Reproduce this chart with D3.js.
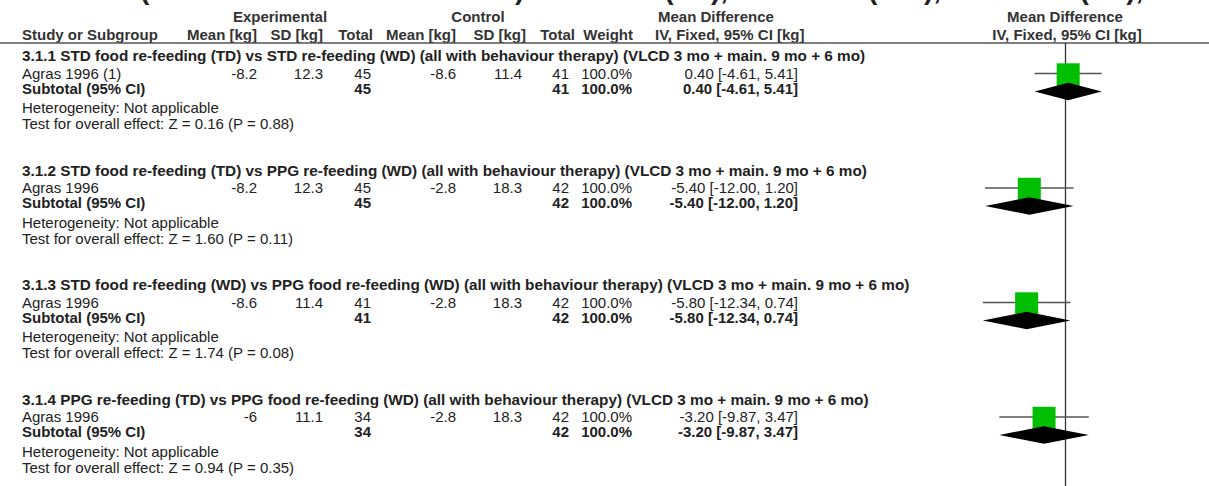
<!DOCTYPE html>
<html>
<head>
<meta charset="utf-8">
<script src="https://cdn.jsdelivr.net/npm/d3@7"></script>
<style>
  body { margin: 0; background: #fff; }
  svg { display: block; font-family: "Liberation Sans", Arial, sans-serif; }
  text { fill: #222; }
  .bold { font-weight: bold; }
</style>
</head>
<body>
<svg id="chart" width="1209" height="486"></svg>
<script>
const WIDTH = 1209;
const HEIGHT = 486;

// subgroup data
const groupTitles = [
  "3.1.1 STD food re-feeding (TD) vs STD re-feeding (WD) (all with behaviour therapy) (VLCD 3 mo + main. 9 mo + 6 mo)",
  "3.1.2 STD food re-feeding (TD) vs PPG re-feeding (WD) (all with behaviour therapy) (VLCD 3 mo + main. 9 mo + 6 mo)",
  "3.1.3 STD food re-feeding (WD) vs PPG food re-feeding (WD) (all with behaviour therapy) (VLCD 3 mo + main. 9 mo + 6 mo)",
  "3.1.4 PPG re-feeding (TD) vs PPG food re-feeding (WD) (all with behaviour therapy) (VLCD 3 mo + main. 9 mo + 6 mo)"
];
const studies = ["Agras 1996 (1)", "Agras 1996", "Agras 1996", "Agras 1996"];
const expMean = ["-8.2", "-8.2", "-8.6", "-6"];
const expSD = ["12.3", "12.3", "11.4", "11.1"];
const expN = [45, 45, 41, 34];
const ctlMean = ["-8.6", "-2.8", "-2.8", "-2.8"];
const ctlSD = ["11.4", "18.3", "18.3", "18.3"];
const ctlN = [41, 42, 42, 42];
const weights = [100, 100, 100, 100];
const md = [0.40, -5.40, -5.80, -3.20];
const ciLow = [-4.61, -12.00, -12.34, -9.87];
const ciHigh = [5.41, 1.20, 0.74, 3.47];
const zStat = [0.16, 1.60, 1.74, 0.94];
const pVal = [0.88, 0.11, 0.08, 0.35];

// header labels: [label, x, anchor]
const headerCols = [
  ["Study or Subgroup", 22, "start"],
  ["Mean [kg]", 257, "end"],
  ["SD [kg]", 323, "end"],
  ["Total", 373, "end"],
  ["Mean [kg]", 456, "end"],
  ["SD [kg]", 526, "end"],
  ["Total", 575, "end"],
  ["Weight", 633, "end"],
  ["IV, Fixed, 95% CI [kg]", 655, "start"],
  ["IV, Fixed, 95% CI [kg]", 1067, "middle"]
];
const topHeaders = [
  ["Experimental", 280, "middle"],
  ["Control", 478, "middle"],
  ["Mean Difference", 658, "start"],
  ["Mean Difference", 1065, "middle"]
];
const titleText = "(Outcome: kilo lost at 18 mo) STD food (TD), STD food (WD), STD/PPG (TD), PPG food ((ppg, TD), PPG food ((ppg, WD))";

const data = groupTitles.map((t, i) => ({
  title: t, study: studies[i],
  em: expMean[i], es: expSD[i], en: expN[i],
  cm: ctlMean[i], cs: ctlSD[i], cn: ctlN[i],
  w: weights[i], md: md[i], lo: ciLow[i], hi: ciHigh[i],
  z: zStat[i], p: pVal[i]
}));

const svg = d3.select("#chart");
const fmt2 = d3.format(".2f");
const minus = s => String(s).replace("\u2212", "-");
const ciText = d => minus(fmt2(d.md)) + " [" + minus(fmt2(d.lo)) + ", " + minus(fmt2(d.hi)) + "]";

// forest plot scale (6.7 px per kg)
const x = d3.scaleLinear().domain([-20, 20]).range([931.5, 1199.5]);
const groupY = d3.scaleLinear().domain([0, 1]).range([56, 170.5]);
const sq = d3.scaleSqrt().domain([0, 100]).range([0, 23]);

// clipped title at the very top
svg.append("text")
  .attr("class", "bold")
  .attr("x", 140).attr("y", -1)
  .style("font-size", "28px")
  .text(titleText);

// headers
svg.selectAll("text.top").data(topHeaders).enter().append("text")
  .attr("class", "top bold")
  .attr("x", d => d[1]).attr("y", 17).attr("dy", "0.35em")
  .attr("text-anchor", d => d[2])
  .style("font-size", "15px").style("fill", "#333")
  .text(d => d[0]);

svg.selectAll("text.col").data(headerCols).enter().append("text")
  .attr("class", "col bold")
  .attr("x", d => d[1]).attr("y", 35).attr("dy", "0.35em")
  .attr("text-anchor", d => d[2])
  .style("font-size", "15px").style("fill", "#333")
  .text(d => d[0]);

svg.append("line")
  .attr("x1", 0).attr("x2", WIDTH)
  .attr("y1", 43).attr("y2", 43)
  .style("stroke", "#555").style("stroke-width", 1.5);

// zero line
svg.append("line")
  .attr("x1", x(0)).attr("x2", x(0))
  .attr("y1", 43).attr("y2", HEIGHT)
  .style("stroke", "#333").style("stroke-width", 1.3);

const g = svg.selectAll("g.group").data(data).enter().append("g")
  .attr("class", "group")
  .attr("transform", (d, i) => "translate(0," + groupY(i) + ")");

const ROW = { study: 17.5, sub: 32.5, het: 52, test: 68, diamond: 35.5 };

const addText = (sel, dy, xPos, anchor, bold, fn, size = 15) => sel.append("text")
  .attr("class", bold ? "bold" : null)
  .attr("x", xPos).attr("y", dy).attr("dy", "0.35em")
  .attr("text-anchor", anchor)
  .style("font-size", size + "px")
  .text(fn);

addText(g, 0, 22, "start", true, d => d.title, 15.3);
// study row
addText(g, ROW.study, 22, "start", false, d => d.study);
addText(g, ROW.study, 257, "end", false, d => d.em);
addText(g, ROW.study, 323, "end", false, d => d.es);
addText(g, ROW.study, 371, "end", false, d => d.en);
addText(g, ROW.study, 456, "end", false, d => d.cm);
addText(g, ROW.study, 522, "end", false, d => d.cs);
addText(g, ROW.study, 569, "end", false, d => d.cn);
addText(g, ROW.study, 632, "end", false, d => d.w.toFixed(1) + "%");
addText(g, ROW.study, 798, "end", false, ciText);
// subtotal row
addText(g, ROW.sub, 22, "start", true, () => "Subtotal (95% CI)");
addText(g, ROW.sub, 371, "end", true, d => d.en);
addText(g, ROW.sub, 569, "end", true, d => d.cn);
addText(g, ROW.sub, 632, "end", true, d => d.w.toFixed(1) + "%");
addText(g, ROW.sub, 798, "end", true, ciText);
addText(g, ROW.het, 22, "start", false, () => "Heterogeneity: Not applicable");
addText(g, ROW.test, 22, "start", false, d => "Test for overall effect: Z = " + fmt2(d.z) + " (P = " + fmt2(d.p) + ")");

// CI lines
g.append("line")
  .attr("x1", d => x(d.lo)).attr("x2", d => x(d.hi))
  .attr("y1", ROW.study).attr("y2", ROW.study)
  .style("stroke", "#555").style("stroke-width", 1.5);

// weight squares
g.append("rect")
  .attr("x", d => x(d.md) - sq(d.w) / 2)
  .attr("y", d => ROW.study + 1.3 - sq(d.w) / 2)
  .attr("width", d => sq(d.w)).attr("height", d => sq(d.w))
  .style("fill", "#00bf00");

// subtotal diamonds
g.append("path")
  .attr("d", d => {
    const cy = ROW.diamond;
    return "M" + x(d.lo) + "," + cy + "L" + x(d.md) + "," + (cy - 8.7) +
      "L" + x(d.hi) + "," + cy + "L" + x(d.md) + "," + (cy + 8.7) + "Z";
  })
  .style("fill", "#000");
</script>
</body>
</html>
